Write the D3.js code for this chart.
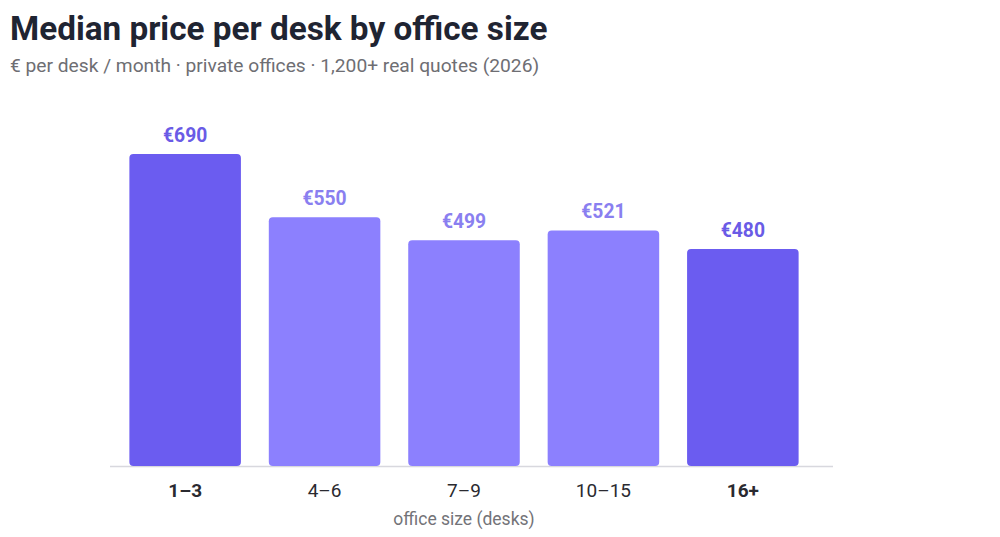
<!DOCTYPE html>
<html>
<head>
<meta charset="utf-8">
<script src="https://cdn.jsdelivr.net/npm/d3@7"></script>
<style>
  html, body { margin: 0; padding: 0; background: #fff; }
  body { width: 1000px; height: 537px; overflow: hidden; font-family: Roboto, "Noto Sans", sans-serif; }
  .title { font-size: 33.3px; font-weight: 700; fill: #1f2432; }
  .subtitle { font-size: 19.2px; fill: #6e6e73; }
  .value-label { font-size: 19.3px; font-weight: 700; text-anchor: middle; }
  .tick-label { font-size: 19px; fill: #2a2a30; text-anchor: middle; }
  .axis-title { font-size: 17.5px; fill: #737378; text-anchor: middle; }
</style>
</head>
<body>
<svg id="chart" width="1000" height="537"></svg>
<script>
const categories = ["1–3", "4–6", "7–9", "10–15", "16+"];
const medianPrice = [690, 550, 499, 521, 480];
const highlighted = ["1–3", "16+"];

const data = categories.map((category, i) => ({
  category,
  value: medianPrice[i],
  strong: highlighted.includes(category),
}));

const svg = d3.select("#chart");
const baseline = 466;

svg.append("text").attr("class", "title").attr("x", 10).attr("y", 40)
  .text("Median price per desk by office size");
svg.append("text").attr("class", "subtitle").attr("x", 10).attr("y", 72)
  .text("€ per desk / month · private offices · 1,200+ real quotes (2026)");

const x = d3.scaleBand()
  .domain(categories)
  .range([101.5, 826.5])
  .padding(0.2);

const y = d3.scaleLinear()
  .domain([0, d3.max(medianPrice)])
  .range([baseline, 154]);

svg.append("line")
  .attr("x1", 110).attr("x2", 833)
  .attr("y1", baseline + 0.5).attr("y2", baseline + 0.5)
  .attr("stroke", "#d8d8de").attr("stroke-width", 1.5);

svg.append("g")
  .selectAll("rect")
  .data(data)
  .join("rect")
  .attr("x", (d) => x(d.category))
  .attr("y", (d) => y(d.value))
  .attr("width", x.bandwidth())
  .attr("height", (d) => baseline - y(d.value))
  .attr("rx", 4)
  .attr("fill", (d) => (d.strong ? "#6b5cf0" : "#8c80fe"));

svg.append("g")
  .selectAll("text")
  .data(data)
  .join("text")
  .attr("class", "value-label")
  .attr("x", (d) => x(d.category) + x.bandwidth() / 2)
  .attr("y", (d) => y(d.value) - 12)
  .attr("fill", (d) => (d.strong ? "#6a5be6" : "#8a7ff0"))
  .text((d) => `€${d.value}`);

svg.append("g")
  .selectAll("text")
  .data(data)
  .join("text")
  .attr("class", "tick-label")
  .attr("x", (d) => x(d.category) + x.bandwidth() / 2)
  .attr("y", 497)
  .attr("font-weight", (d) => (d.strong ? 700 : 400))
  .text((d) => d.category);

svg.append("text").attr("class", "axis-title")
  .attr("x", 464).attr("y", 525)
  .text("office size (desks)");
</script>
</body>
</html>
